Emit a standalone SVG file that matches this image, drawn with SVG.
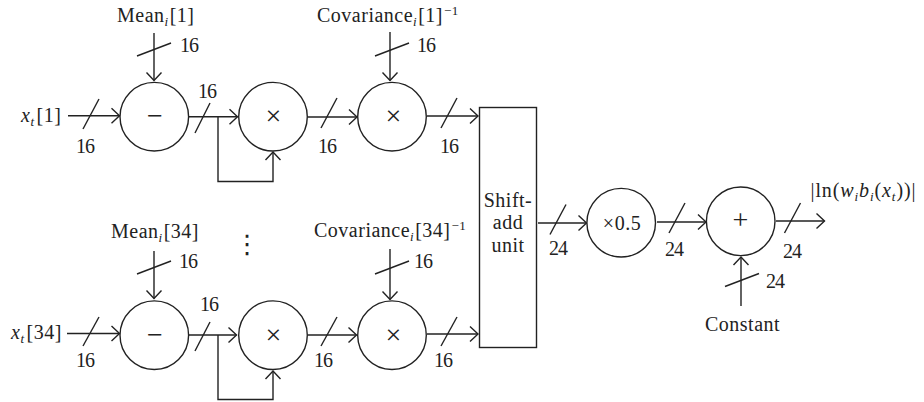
<svg xmlns="http://www.w3.org/2000/svg" width="924" height="402" viewBox="0 0 924 402">
<defs>
<marker id="a" markerUnits="userSpaceOnUse" markerWidth="14" markerHeight="18" refX="11" refY="9" orient="auto"><path d="M3 1.5L11 9L3 16.5" fill="none" stroke="#222" stroke-width="1.4"/></marker>
</defs>
<style>
.l{fill:none;stroke:#222;stroke-width:1.4}
.w{fill:none;stroke:#222;stroke-width:1.4;marker-end:url(#a)}
.n{fill:#fff;stroke:#222;stroke-width:1.4}
text{font-family:"Liberation Serif","Times New Roman",serif;font-size:20px;fill:#222;letter-spacing:.5px}
.m{text-anchor:middle}
.s{font-size:13px}
.i{font-style:italic}
.d{letter-spacing:-1px}
.o{font-size:28px;letter-spacing:0}
</style>
<g id="connectors">
<path class="w" d="M68 115.700H119.500"/><path class="l" d="M83 129L99 99"/>
<path class="w" d="M154 33V80.500"/><path class="l" d="M137 56L171 43"/>
<path class="w" d="M189 116.700H237.500"/><path class="l" d="M195 133L210 103"/>
<path class="w" d="M218 116.700V181.500H273V152"/>
<path class="w" d="M307.500 117H357"/><path class="l" d="M321 128L337 98"/>
<path class="w" d="M390 32V80.500"/><path class="l" d="M375 56L409 43"/>
<path class="w" d="M427 116H478"/><path class="l" d="M441 128L457 98"/>
<path class="w" d="M67 333.500H119.500"/><path class="l" d="M83 346L99 317"/>
<path class="w" d="M154 251V298.500"/><path class="l" d="M137 274L171 261"/>
<path class="w" d="M189 335H236.500"/><path class="l" d="M195 351L210 322"/>
<path class="w" d="M218 335V399.500H273V371"/>
<path class="w" d="M307.500 335H356.500"/><path class="l" d="M321 346L337 317"/>
<path class="w" d="M390 249V299.500"/><path class="l" d="M375 274L409 261"/>
<path class="w" d="M427 334H478"/><path class="l" d="M441 346L457 317"/>
<path class="w" d="M538 223H586.500"/><path class="l" d="M550 234.500L566 204.500"/>
<path class="w" d="M657 222H706"/><path class="l" d="M669 233L685 203"/>
<path class="w" d="M776 221H824.500"/><path class="l" d="M784.500 233L800.500 203"/>
<path class="w" d="M741 306V257"/><path class="l" d="M725 286.500L759 273.500"/>
</g>
<g id="node-sub1"><circle class="n" cx="154.300" cy="116.700" r="34.300"/><text class="m o" x="155" y="125">−</text></g>
<g id="node-square1"><circle class="n" cx="273" cy="116.700" r="34.300"/><text class="m o" x="273.500" y="125">×</text></g>
<g id="node-cov1"><circle class="n" cx="392" cy="116.700" r="34.300"/><text class="m o" x="393.500" y="125">×</text></g>
<g id="node-sub34"><circle class="n" cx="154.300" cy="335.200" r="34.300"/><text class="m o" x="155" y="343.500">−</text></g>
<g id="node-square34"><circle class="n" cx="273" cy="335.200" r="34.300"/><text class="m o" x="273.500" y="343.500">×</text></g>
<g id="node-cov34"><circle class="n" cx="392" cy="335.200" r="34.300"/><text class="m o" x="393.500" y="343.500">×</text></g>
<g id="node-shift"><rect class="n" x="479.500" y="107.500" width="57" height="240"/><text class="m" x="508" y="207">Shift-</text><text class="m" x="508" y="229">add</text><text class="m" x="508" y="252">unit</text></g>
<g id="node-half"><circle class="n" cx="621.200" cy="222.700" r="34.300"/><text class="m" x="622" y="230">×0.5</text></g>
<g id="node-add"><circle class="n" cx="740.700" cy="221.300" r="34.300"/><text class="m o" x="740.500" y="229">+</text></g>
<g id="labels">
<text x="117" y="22">Mean<tspan class="s i" dy="4">i</tspan><tspan dy="-4" dx="1">[1]</tspan></text>
<text class="d" x="180" y="52">16</text>
<text x="21" y="122"><tspan class="i">x</tspan><tspan class="s i" dy="4">t</tspan><tspan dy="-4" dx="2">[1]</tspan></text>
<text class="d" x="76" y="153">16</text>
<text class="d" x="198" y="98">16</text>
<text class="d" x="318" y="153">16</text>
<text x="317" y="22">Covariance<tspan class="s i" dy="4">i</tspan><tspan dy="-4" dx="1">[1]</tspan><tspan class="s" dy="-7" dx="1">−1</tspan></text>
<text class="d" x="417" y="52">16</text>
<text class="d" x="440" y="153">16</text>
<text x="111" y="238">Mean<tspan class="s i" dy="4">i</tspan><tspan dy="-4" dx="1">[34]</tspan></text>
<text class="d" x="179" y="268">16</text>
<text x="11" y="339"><tspan class="i">x</tspan><tspan class="s i" dy="4">t</tspan><tspan dy="-4" dx="2">[34]</tspan></text>
<text class="d" x="76" y="367">16</text>
<text class="d" x="200" y="311">16</text>
<text class="d" x="314" y="367">16</text>
<text x="314" y="237">Covariance<tspan class="s i" dy="4">i</tspan><tspan dy="-4" dx="1">[34]</tspan><tspan class="s" dy="-7" dx="1">−1</tspan></text>
<text class="d" x="414" y="268">16</text>
<text class="d" x="434" y="367">16</text>
<text class="d" x="549" y="255">24</text>
<text class="d" x="665" y="256">24</text>
<text class="d" x="783" y="258">24</text>
<text class="d" x="766" y="288">24</text>
<text x="705" y="331">Constant</text>
<text x="810.500" y="197" style="letter-spacing:.9px">|ln(<tspan class="i">w</tspan><tspan class="s i" dy="4">i</tspan><tspan class="i" dy="-4">b</tspan><tspan class="s i" dy="4">i</tspan><tspan dy="-4">(</tspan><tspan class="i">x</tspan><tspan class="s i" dy="4">t</tspan><tspan dy="-4">))|</tspan></text>
<text class="m" x="247.300" y="253" style="font-family:'DejaVu Sans',sans-serif;font-size:26px;letter-spacing:0">⋮</text>
</g>
</svg>
